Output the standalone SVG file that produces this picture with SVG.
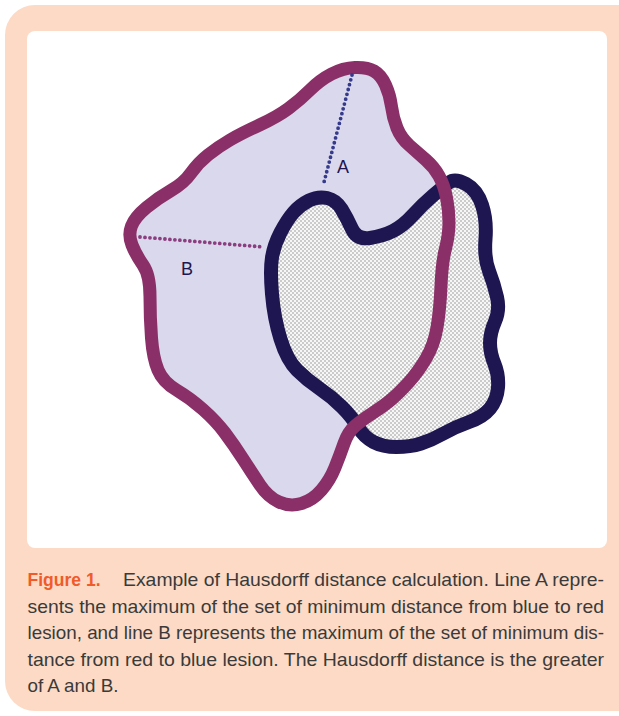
<svg xmlns="http://www.w3.org/2000/svg" width="619" height="716" viewBox="0 0 619 716">
<style>
.cap{font-family:"Liberation Sans",Arial,sans-serif;font-size:19px;fill:#3a3a3a}
.fig{font-weight:bold;fill:#f15a29}
.lbl{font-family:"Liberation Sans",Arial,sans-serif;font-size:18px;fill:#1d1650}
</style>
<defs>
<pattern id="dots" width="4" height="4" patternUnits="userSpaceOnUse">
<rect width="4" height="4" fill="#f7f7f7"/>
<circle cx="1" cy="1" r="0.75" fill="#8a8a8a"/>
<circle cx="3" cy="3" r="0.75" fill="#8a8a8a"/>
</pattern>
<path id="redshape" d="M355,67.5 Q367,67 374,71 Q381,75 385.5,85 Q390,95 391.5,106.5 Q393,118 397,128 Q401,138 409.5,145.5 Q418,153 426,160 Q434,167 439,176 Q444,185 446.5,197.5 Q449,210 449,222.5 Q449,235 445.5,248.5 Q442,262 441,286 Q440,310 437,327.5 Q434,345 426,358.5 Q418,372 409,382 Q400,392 392.5,398.5 Q385,405 373.5,412.5 Q362,420 355,426 Q348,432 344,443.5 Q340,455 335,467.5 Q330,480 321.5,490 Q313,500 301.5,503.5 Q290,507 279,502 Q268,497 260,485 Q252,473 243,459 Q234,445 225,433 Q216,421 203,409.5 Q190,398 176.5,390 Q163,382 158,370 Q153,358 151.5,338 Q150,318 150,296.5 Q150,275 143,265 Q136,255 132,245 Q128,235 131.5,226 Q135,217 146.5,207.5 Q158,198 171,190.5 Q184,183 191,173 Q198,163 208,155 Q218,147 230,140 Q242,133 259.5,125 Q277,117 288.5,108.5 Q300,100 310,90 Q320,80 331.5,74 Q343,68 355,67.5 Z"/>
</defs>
<rect x="5" y="5" width="650" height="706" rx="30" fill="#fcdac6"/>
<rect x="27" y="31" width="580" height="517" rx="8" fill="#ffffff"/>
<g id="red-lesion-fill" fill="#d9d8ec">
<use href="#redshape"/>
</g>
<g id="blue-lesion">
<path d="M327,198 Q336,200 341.5,209 Q347,218 352,229 Q357,240 370,238 Q383,236 393,231 Q403,226 413,215 Q423,204 433,195.5 Q443,187 449,182.5 Q455,178 466,184 Q477,190 482,205 Q487,220 485.5,239 Q484,258 489,271 Q494,284 497,297 Q500,310 495,321.5 Q490,333 490,343 Q490,353 494.5,364 Q499,375 498,387.5 Q497,400 490,408.5 Q483,417 469,422 Q455,427 443.5,433.5 Q432,440 421,443.5 Q410,447 396.5,447 Q383,447 373.5,442 Q364,437 358,427 Q352,417 342,407 Q332,397 319.5,388.5 Q307,380 297,370 Q287,360 280.5,339 Q274,318 272,294 Q270,270 272,257.5 Q274,245 280.5,232.5 Q287,220 293.5,212.5 Q300,205 309,200.5 Q318,196 327,198 Z" fill="url(#dots)" stroke="#1d1650" stroke-width="14" stroke-linejoin="round"/>
</g>
<g id="red-lesion-outline" fill="none" stroke="#8a2f67" stroke-width="13" stroke-linejoin="round">
<use href="#redshape"/>
</g>
<g id="connectors">
<line x1="352" y1="75" x2="323" y2="186" stroke="#353a8c" stroke-width="3.8" stroke-linecap="round" stroke-dasharray="0 5"/>
<line x1="140" y1="237" x2="264" y2="247" stroke="#8c3d80" stroke-width="3.8" stroke-linecap="round" stroke-dasharray="0 5"/>
</g>
<g id="label-A"><text class="lbl" x="343" y="173" text-anchor="middle">A</text></g>
<g id="label-B"><text class="lbl" x="187" y="275" text-anchor="middle">B</text></g>
<g id="caption">
<text class="cap fig" x="27.5" y="586" textLength="73" lengthAdjust="spacingAndGlyphs">Figure 1.</text>
<text class="cap" x="123" y="586" textLength="481" lengthAdjust="spacingAndGlyphs">Example of Hausdorff distance calculation. Line A repre-</text>
<text class="cap" x="27.5" y="612.5" textLength="576.5" lengthAdjust="spacingAndGlyphs">sents the maximum of the set of minimum distance from blue to red</text>
<text class="cap" x="27.5" y="639" textLength="576.5" lengthAdjust="spacingAndGlyphs">lesion, and line B represents the maximum of the set of minimum dis-</text>
<text class="cap" x="27.5" y="665.5" textLength="576.5" lengthAdjust="spacingAndGlyphs">tance from red to blue lesion. The Hausdorff distance is the greater</text>
<text class="cap" x="27.5" y="692" textLength="91" lengthAdjust="spacingAndGlyphs">of A and B.</text>
</g>
</svg>
